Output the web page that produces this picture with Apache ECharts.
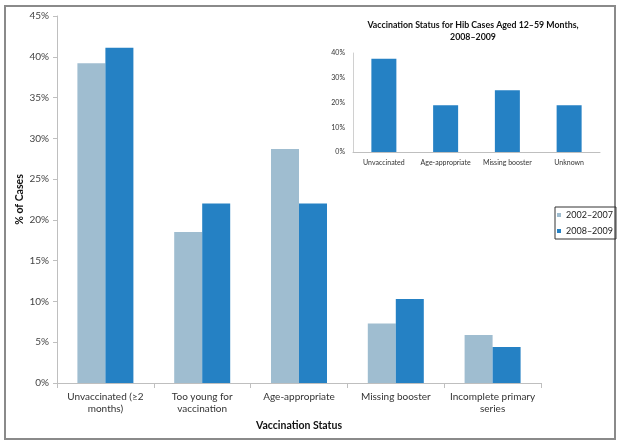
<!DOCTYPE html>
<html>
<head>
<meta charset="utf-8">
<script src="https://cdn.jsdelivr.net/npm/echarts@6/dist/echarts.min.js"></script>
<style>
  html, body { margin: 0; padding: 0; background: #fff; }
  #main { width: 621px; height: 445px; }
</style>
</head>
<body>
<div id="main"></div>
<script>
// main chart data
var categories = ['Unvaccinated (≥2\nmonths)', 'Too young for\nvaccination', 'Age-appropriate', 'Missing booster', 'Incomplete primary\nseries'];
var early = [39.2, 18.5, 28.7, 7.3, 5.9];   // 2002–2007
var late = [41.1, 22.0, 22.0, 10.3, 4.4];   // 2008–2009
var yTicks = [0, 5, 10, 15, 20, 25, 30, 35, 40, 45];

// inset data
var insetCategories = ['Unvaccinated', 'Age-appropriate', 'Missing booster', 'Unknown'];
var insetValues = [37.7, 18.9, 24.9, 18.9];
var insetTicks = [0, 10, 20, 30, 40];

var lightBlue = '#9fbdd0';
var darkBlue = '#2581c4';
var font = 'Lato, "Open Sans", sans-serif';

var chart = echarts.init(document.getElementById('main'));
chart.setOption({
    animation: false,
    textStyle: { fontFamily: font },
    graphic: [{
        type: 'rect',
        shape: { x: 5, y: 6, width: 610, height: 433 },
        style: { fill: 'none', stroke: '#8a8a8a', lineWidth: 2 },
        z: 0
    }],
    title: {
        text: 'Vaccination Status for Hib Cases Aged 12–59 Months,\n2008–2009',
        left: 468,
        top: 14,
        textAlign: 'center',
        textStyle: { fontSize: 8.8, fontWeight: 'bold', color: '#111', lineHeight: 12, fontFamily: font }
    },
    legend: {
        orient: 'vertical',
        left: 555,
        top: 207,
        padding: [2, 3, 2, 2],
        itemGap: 4,
        itemWidth: 4,
        itemHeight: 4,
        borderColor: '#333',
        borderWidth: 1,
        borderRadius: 0,
        icon: 'rect',
        textStyle: { fontSize: 9, color: '#222', lineHeight: 12 },
        data: ['2002–2007', '2008–2009']
    },
    grid: [
        { left: 57, top: 16, right: 80, bottom: 62 },
        { left: 353, top: 53, right: 21, bottom: 293 }
    ],
    xAxis: [{
        type: 'category',
        gridIndex: 0,
        data: categories,
        name: 'Vaccination Status',
        nameLocation: 'middle',
        nameGap: 31,
        nameTextStyle: { fontSize: 10.5, fontWeight: 'bold', color: '#111' },
        axisLine: { lineStyle: { color: '#bfbfbf' } },
        axisTick: { show: true, length: 5, lineStyle: { color: '#bfbfbf' } },
        axisLabel: { fontSize: 10, color: '#333', margin: 8, lineHeight: 12, interval: 0 }
    }, {
        type: 'category',
        gridIndex: 1,
        data: insetCategories,
        axisLine: { lineStyle: { color: '#bfbfbf' } },
        axisTick: { show: false },
        axisLabel: { fontSize: 7, color: '#333', margin: 7, interval: 0 }
    }],
    yAxis: [{
        type: 'value',
        gridIndex: 0,
        min: yTicks[0],
        max: yTicks[yTicks.length - 1],
        interval: 5,
        name: '% of Cases',
        nameLocation: 'middle',
        nameRotate: 90,
        nameGap: 32,
        nameMoveOverlap: false,
        nameTextStyle: { fontSize: 10.5, fontWeight: 'bold', color: '#111' },
        splitLine: { show: false },
        axisLine: { show: true, lineStyle: { color: '#bfbfbf' } },
        axisTick: { show: true, length: 4, lineStyle: { color: '#bfbfbf' } },
        axisLabel: { fontSize: 10, color: '#444', margin: 8, formatter: '{value}%' }
    }, {
        type: 'value',
        gridIndex: 1,
        min: insetTicks[0],
        max: insetTicks[insetTicks.length - 1],
        interval: 10,
        splitLine: { show: false },
        axisLine: { show: true, lineStyle: { color: '#d0d0d0' } },
        axisTick: { show: false },
        axisLabel: { fontSize: 7, color: '#333', margin: 8, formatter: '{value}%' }
    }],
    series: [{
        name: '2002–2007',
        type: 'bar',
        xAxisIndex: 0,
        yAxisIndex: 0,
        data: early,
        barWidth: 28,
        barGap: '0%',
        itemStyle: { color: lightBlue }
    }, {
        name: '2008–2009',
        type: 'bar',
        xAxisIndex: 0,
        yAxisIndex: 0,
        data: late,
        barWidth: 28,
        barGap: '0%',
        itemStyle: { color: darkBlue }
    }, {
        name: 'inset',
        type: 'bar',
        xAxisIndex: 1,
        yAxisIndex: 1,
        data: insetValues,
        barWidth: 25,
        itemStyle: { color: darkBlue }
    }]
});
</script>
</body>
</html>
